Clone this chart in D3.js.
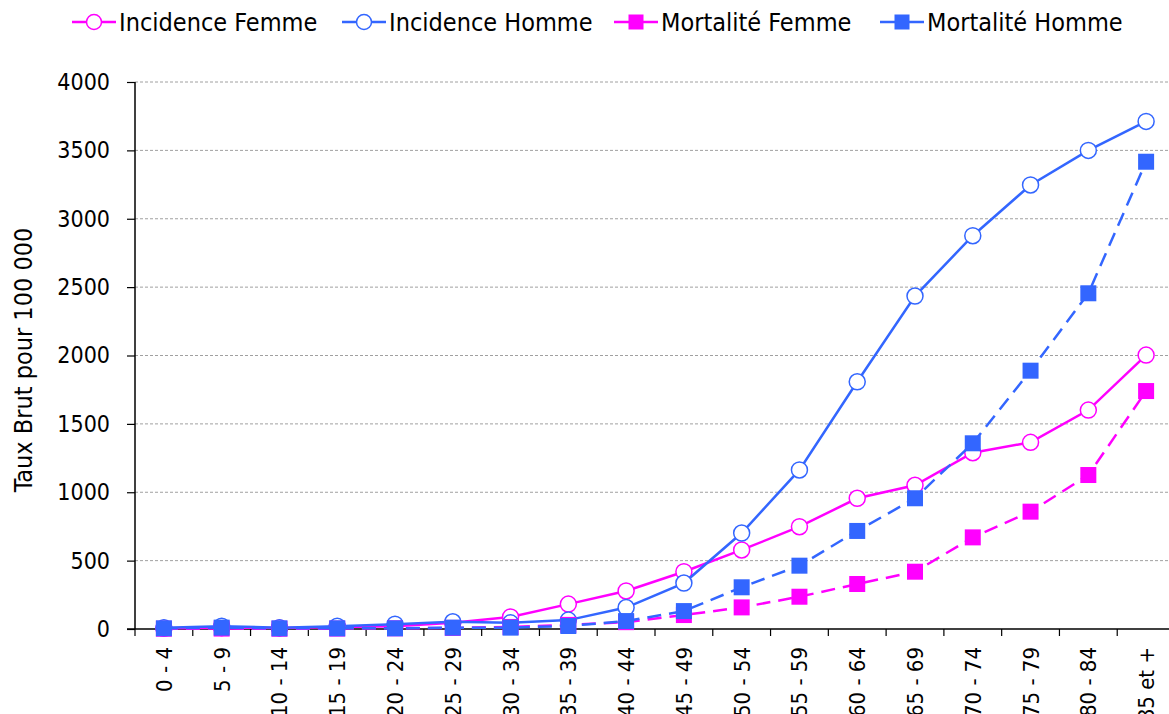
<!DOCTYPE html>
<html><head><meta charset="utf-8">
<script src="https://cdn.jsdelivr.net/npm/d3@7"></script>
<style>body{margin:0;background:#fff;} svg{display:block;} text{font-family:"DejaVu Sans Condensed","DejaVu Sans",sans-serif;}</style>
</head><body>
<svg id="c" width="1169" height="714"></svg>
<script>
const categories = ["0 - 4","5 - 9","10 - 14","15 - 19","20 - 24","25 - 29","30 - 34","35 - 39","40 - 44","45 - 49","50 - 54","55 - 59","60 - 64","65 - 69","70 - 74","75 - 79","80 - 84","85 et +"];
const incidenceFemme = [5,10,8,15,20,45,88,182,278,419,578,748,956,1051,1289,1365,1601,2003];
const incidenceHomme = [10,20,10,20,35,53,45,65,157,336,702,1163,1808,2435,2876,3247,3500,3712];
const mortaliteFemme = [2,3,2,3,5,8,15,30,50,102,158,236,329,419,670,858,1126,1740];
const mortaliteHomme = [5,10,5,5,5,10,10,22,58,131,305,463,717,956,1358,1889,2455,3417];
const yTicks = [0,500,1000,1500,2000,2500,3000,3500,4000];
const seriesNames = ["Incidence Femme","Incidence Homme","Mortalité Femme","Mortalité Homme"];

const PINK = "#ff00ff", BLUE = "#3366ff";
const series = [
  {name: seriesNames[0], values: incidenceFemme, color: PINK, marker: "circle", dash: null},
  {name: seriesNames[1], values: incidenceHomme, color: BLUE, marker: "circle", dash: null},
  {name: seriesNames[2], values: mortaliteFemme, color: PINK, marker: "square", dash: "14,8"},
  {name: seriesNames[3], values: mortaliteHomme, color: BLUE, marker: "square", dash: "14,8"}
];

const svg = d3.select("#c");
const pLeft = 135, pRight = 1175, pTop = 82, pBottom = 629;
const x = d3.scaleBand().domain(categories).range([pLeft, pRight]);
const y = d3.scaleLinear().domain([0, 4000]).range([pBottom, pTop]);

// gridlines
svg.append("g").selectAll("line").data(yTicks.filter(d => d > 0)).join("line")
  .attr("x1", pLeft).attr("x2", 1169).attr("y1", d => y(d)).attr("y2", d => y(d))
  .attr("stroke", "#a0a0a0").attr("stroke-width", 1).attr("stroke-dasharray", "3,2");

// y axis
const yAxis = svg.append("g").attr("transform", `translate(${pLeft},0)`)
  .call(d3.axisLeft(y).tickValues(yTicks).tickSize(8).tickPadding(17).tickFormat(d3.format("d")));
yAxis.select(".domain").attr("stroke", "#000").attr("stroke-width", 1.5).attr("d", `M0,${pTop}V${pBottom}`);
yAxis.selectAll(".tick line").attr("stroke", "#000").attr("stroke-width", 1.2);
yAxis.selectAll(".tick text").attr("font-size", 23).attr("fill", "#000").attr("font-family", "DejaVu Sans Condensed");

// x axis
const xAxis = svg.append("g").attr("transform", `translate(0,${pBottom})`);
xAxis.append("line").attr("x1", pLeft - 8).attr("x2", 1169).attr("y1", 0).attr("y2", 0)
  .attr("stroke", "#000").attr("stroke-width", 1.5);
const boundaries = categories.map(c => x(c));
xAxis.selectAll("line.tk").data(boundaries).join("line").attr("class", "tk")
  .attr("x1", d => d).attr("x2", d => d).attr("y1", 0).attr("y2", 7)
  .attr("stroke", "#000").attr("stroke-width", 1.2);
xAxis.selectAll("text").data(categories).join("text")
  .attr("transform", d => `translate(${x(d) + x.bandwidth() / 2 + 8},18) rotate(-90)`)
  .attr("text-anchor", "end").attr("font-size", 22).attr("fill", "#000")
  .text(d => d);

// y title
svg.append("text").attr("transform", `translate(32,360) rotate(-90)`)
  .attr("text-anchor", "middle").attr("font-size", 25).attr("fill", "#000")
  .text("Taux Brut pour 100 000");

// series
const line = d3.line().x((d, i) => x(categories[i]) + x.bandwidth() / 2).y(d => y(d));
series.forEach(s => {
  const g = svg.append("g");
  g.append("path").datum(s.values).attr("d", line).attr("fill", "none")
    .attr("stroke", s.color).attr("stroke-width", 2.5)
    .attr("stroke-dasharray", s.dash);
  if (s.marker === "circle") {
    g.selectAll("circle").data(s.values).join("circle")
      .attr("cx", (d, i) => x(categories[i]) + x.bandwidth() / 2).attr("cy", d => y(d))
      .attr("r", 8).attr("fill", "#fff").attr("stroke", s.color).attr("stroke-width", 1.5);
  } else {
    g.selectAll("rect").data(s.values).join("rect")
      .attr("x", (d, i) => x(categories[i]) + x.bandwidth() / 2 - 8).attr("y", d => y(d) - 8)
      .attr("width", 16).attr("height", 16).attr("fill", s.color);
  }
});

// legend
const legendX = [119, 389, 661, 927];
const ly = 22;
series.forEach((s, i) => {
  const g = svg.append("g");
  const tx = legendX[i];
  g.append("line").attr("x1", tx - 47).attr("x2", tx - 3).attr("y1", ly).attr("y2", ly)
    .attr("stroke", s.color).attr("stroke-width", 2.5);
  const mx = tx - 25;
  if (s.marker === "circle") {
    g.append("circle").attr("cx", mx).attr("cy", ly).attr("r", 7.5)
      .attr("fill", "#fff").attr("stroke", s.color).attr("stroke-width", 1.5);
  } else {
    g.append("rect").attr("x", mx - 7.5).attr("y", ly - 7.5).attr("width", 15).attr("height", 15).attr("fill", s.color);
  }
  g.append("text").attr("x", tx).attr("y", ly + 9).attr("font-size", 25).attr("fill", "#000").text(s.name);
});
</script>
</body></html>
